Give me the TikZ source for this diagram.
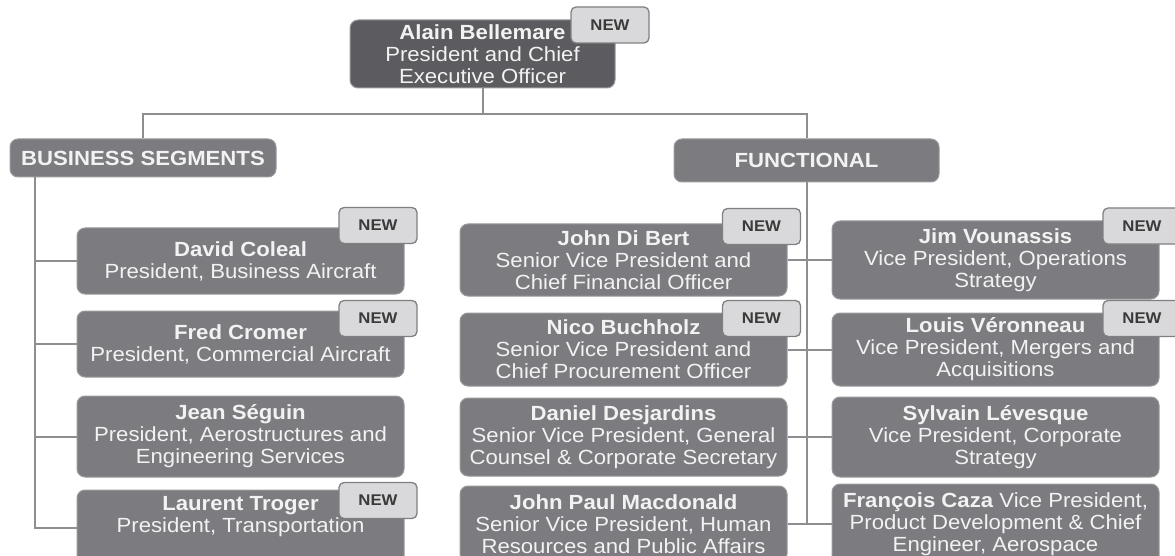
\documentclass[tikz,border=0pt]{standalone}
\usepackage{fontspec}
\setmainfont{Liberation Sans}[FakeStretch=1.08]
\definecolor{boxfill}{HTML}{7C7C80}
\definecolor{boxedge}{HTML}{9A9A9D}
\definecolor{ceofill}{HTML}{5C5C60}
\definecolor{tagfill}{HTML}{D9D9DB}
\definecolor{tagline}{HTML}{808083}
\definecolor{linec}{HTML}{8E8E90}
\definecolor{boxtext}{HTML}{F2F2F2}
\definecolor{tagtext}{HTML}{3A3A3A}
\tikzset{
  box/.style={draw=boxedge, line width=1, fill=boxfill, rounded corners=8,
    minimum width=327, inner sep=0, text=boxtext, align=center,
    font=\fontsize{20.5}{22}\selectfont},
  boxtxt/.style={inner sep=0, text=boxtext, align=center,
    font=\fontsize{20.5}{22}\selectfont},
  ceobox/.style={box, fill=ceofill, minimum width=265, minimum height=68},
  headbox/.style={box, font=\bfseries\fontsize{20.5}{22}\selectfont},
  tag/.style={draw=tagline, line width=1.3, fill=tagfill, rounded corners=5,
    minimum width=78, minimum height=36, inner sep=0, text=tagtext,
    font=\bfseries\fontsize{15.5}{16}\selectfont},
  conn/.style={draw=linec, line width=2},
}
\begin{document}
\begin{tikzpicture}[x=1pt,y=-1pt]
\useasboundingbox[fill=white] (0,0) rectangle (1175,556);

% top
\node[ceobox] (ceo) at (482.5,54) {\textbf{Alain Bellemare}\\President and Chief\\Executive Officer};
\node[headbox, minimum width=266, minimum height=38] (bs) at (143,158) {BUSINESS SEGMENTS};
\node[headbox, minimum width=265, minimum height=43] (fn) at (806.5,160.5) {FUNCTIONAL};

% left column
\node[box, minimum height=66] (l1) at (240.5,261) {\textbf{David Coleal}\\President, Business Aircraft};
\node[box, minimum height=66] (l2) at (240.5,344) {\textbf{Fred Cromer}\\President, Commercial Aircraft};
\node[box, minimum height=81] (l3) at (240.5,436.5) {\textbf{Jean Séguin}\\President, Aerostructures and\\Engineering Services};
\node[box, minimum height=76] (l4) at (240.5,528) {};
\node[boxtxt] (l4t) at (240.5,517) {\textbf{Laurent Troger}\\President, Transportation};

% middle column
\node[box, minimum height=72] (m1) at (623.5,260) {\textbf{John Di Bert}\\Senior Vice President and\\Chief Financial Officer};
\node[box, minimum height=73] (m2) at (623.5,349.5) {\textbf{Nico Buchholz}\\Senior Vice President and\\Chief Procurement Officer};
\node[box, minimum height=78] (m3) at (623.5,437) {\textbf{Daniel Desjardins}\\Senior Vice President, General\\Counsel \& Corporate Secretary};
\node[box, minimum height=76] (m4) at (623.5,524) {\textbf{John Paul Macdonald}\\Senior Vice President, Human\\Resources and Public Affairs};

% right column
\node[box, minimum height=78] (r1) at (995.5,260) {\textbf{Jim Vounassis}\\Vice President, Operations\\Strategy};
\node[box, minimum height=73] (r2) at (995.5,349.5) {\textbf{Louis Véronneau}\\Vice President, Mergers and\\Acquisitions};
\node[box, minimum height=80] (r3) at (995.5,437) {\textbf{Sylvain Lévesque}\\Vice President, Corporate\\Strategy};
\node[box, minimum height=80] (r4) at (995.5,524) {\textbf{François Caza} Vice President,\\Product Development \& Chief\\Engineer, Aerospace};

% connectors
\coordinate (top) at (482.5,114);
\draw[conn] (ceo.south) -- (top);
\draw[conn] (bs.north) |- (top) -| (fn.north);
\coordinate (lt) at ([xshift=25]bs.south west);
\draw[conn] (lt) |- (l4.west);
\foreach \n in {l1,l2,l3} \draw[conn] (\n.west) -- (\n.west -| lt);
\draw[conn] (fn.south) -- (fn.south |- r4.west);
\foreach \a/\b in {m1/r1,m2/r2,m3/r3,m4/r4} \draw[conn] (\a.east) -- (\b.west);

% tags
\node[tag] (tceo) at (610,25) {NEW};
\node[tag] (tl1) at (378,225.5) {NEW};
\node[tag] (tl2) at (378,318.5) {NEW};
\node[tag] (tl4) at (378,500.5) {NEW};
\node[tag] (tm1) at (761.5,226.5) {NEW};
\node[tag] (tm2) at (761.5,318.5) {NEW};
\node[tag] (tr1) at (1142,226) {NEW};
\node[tag] (tr2) at (1142,318.5) {NEW};
\end{tikzpicture}
\end{document}
